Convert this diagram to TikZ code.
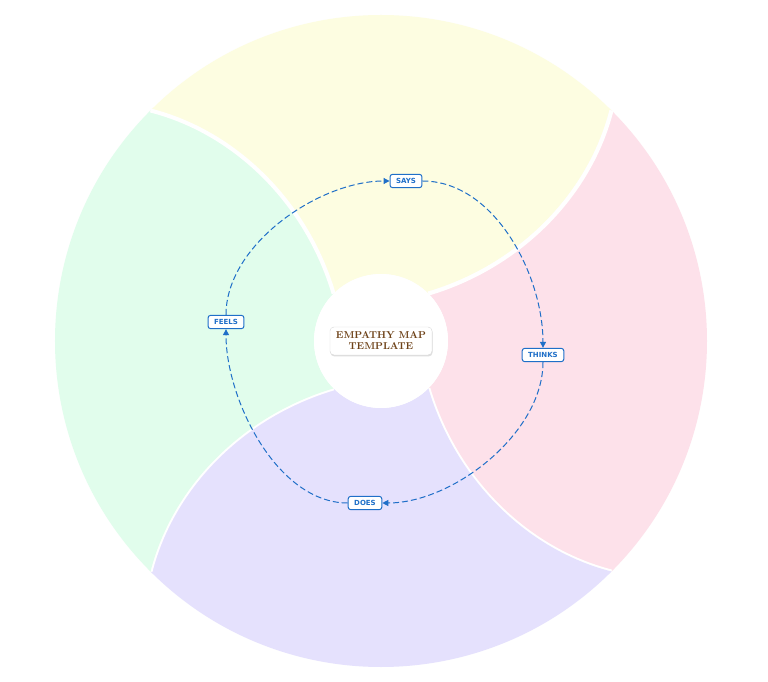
\documentclass[tikz,border=0pt]{standalone}
\usepackage{fontspec}
\setsansfont{DejaVu Sans}
\usetikzlibrary{calc,arrows.meta,shadows}
\definecolor{cy}{HTML}{FDFDE1}
\definecolor{cp}{HTML}{FDE1EA}
\definecolor{cv}{HTML}{E5E1FD}
\definecolor{cg}{HTML}{E1FDEC}
\definecolor{lblue}{HTML}{1F6FC8}
\definecolor{brn}{HTML}{6E4218}
\tikzset{
 lbl/.style={draw=lblue,line width=1pt,rounded corners=2.5pt,fill=white,text=lblue,font=\sffamily\bfseries\fontsize{7}{8}\selectfont,inner xsep=6pt,inner ysep=4pt},
 flow/.style={draw=lblue,line width=1pt,dash pattern=on 6pt off 3pt,-{Triangle[length=6pt,width=6pt]}},
 sect/.style={draw=white,line width=4pt,line join=round}
}
\newcommand{\sector}[3]{%
 \fill[#3] (#1:67) .. controls ($(#1:150)+(#1-90:45)$) and ($(#1:250)+(#1-90:45)$) .. (#1:326)
  arc[start angle=#1,end angle=#2,radius=326]
  .. controls ($(#2:250)+(#2-90:45)$) and ($(#2:150)+(#2-90:45)$) .. (#2:67)
  arc[start angle=#2,end angle=#1,radius=67] -- cycle;
 \draw[sect] (#1:67) .. controls ($(#1:150)+(#1-90:45)$) and ($(#1:250)+(#1-90:45)$) .. (#1:326);}
\begin{document}
\begin{tikzpicture}[x=1pt,y=1pt]
\useasboundingbox[fill=white] (-381,-341) rectangle (387,341);
\sector{45}{135}{cy}
\sector{-45}{45}{cp}
\sector{-135}{-45}{cv}
\sector{135}{225}{cg}
\draw[sect] (45:67) .. controls ($(45:150)+(-45:45)$) and ($(45:250)+(-45:45)$) .. (45:326);
\fill[white] (0,0) circle (67);
\node[draw=gray!30,fill=white,rounded corners=4pt,drop shadow={opacity=0.25,shadow xshift=0.5pt,shadow yshift=-1.5pt},text=brn,align=center,font=\bfseries\fontsize{10}{11}\selectfont,inner xsep=6pt,inner ysep=5pt] (c) at (0,0) {EMPATHY MAP\\TEMPLATE};
\node[lbl] (says) at (25,160) {SAYS};
\node[lbl] (thinks) at (162,-14) {THINKS};
\node[lbl] (does) at (-16,-162) {DOES};
\node[lbl] (feels) at (-155,19) {FEELS};
\draw[flow] (says.east) to[out=0,in=90,looseness=0.9] (thinks.north);
\draw[flow] (thinks.south) to[out=-90,in=0,looseness=0.85] (does.east);
\draw[flow] (does.west) to[out=180,in=-90,looseness=0.85] (feels.south);
\draw[flow] (feels.north) to[out=90,in=180,looseness=0.85] (says.west);
\end{tikzpicture}
\end{document}
